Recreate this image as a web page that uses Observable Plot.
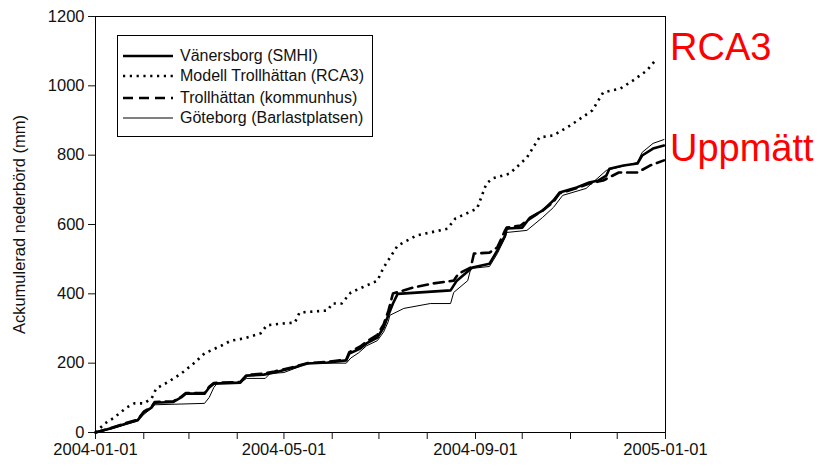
<!DOCTYPE html>
<html>
<head>
<meta charset="utf-8">
<script src="https://cdn.jsdelivr.net/npm/d3@7"></script>
<script src="https://cdn.jsdelivr.net/npm/@observablehq/plot@0.6"></script>
<style>
  html, body { margin: 0; padding: 0; background: white; }
  #wrap { position: relative; width: 819px; height: 468px; font-family: "Liberation Sans", Arial, sans-serif; }
  #legend { position: absolute; left: 117px; top: 35px; width: 256px; height: 102px; border: 1px solid #000; box-sizing: border-box; background: white; }
  .row { position: absolute; left: 5px; height: 20px; display: flex; align-items: center; font-size: 16px; color: #111; white-space: nowrap; }
  .row svg { margin-right: 5px; }
  .anno { position: absolute; color: #ff0000; font-size: 38px; line-height: 1; }
</style>
</head>
<body>
<div id="wrap"></div>
<script>
// ---- data ----
const seriesNames = ["Vänersborg (SMHI)", "Modell Trollhättan (RCA3)", "Trollhättan (kommunhus)", "Göteborg (Barlastplatsen)"];

const vanersborgDates = ["2004-01-01","2004-01-11","2004-01-21","2004-01-28","2004-02-01","2004-02-06","2004-02-08","2004-02-20","2004-02-25","2004-02-28","2004-03-11","2004-03-14","2004-03-17","2004-04-03","2004-04-07","2004-04-18","2004-04-25","2004-05-08","2004-05-16","2004-05-29","2004-06-10","2004-06-12","2004-06-19","2004-06-23","2004-06-30","2004-07-04","2004-07-07","2004-07-10","2004-07-13","2004-08-16","2004-08-20","2004-08-30","2004-09-10","2004-09-15","2004-09-20","2004-09-21","2004-10-01","2004-10-06","2004-10-14","2004-10-21","2004-10-25","2004-11-05","2004-11-13","2004-11-19","2004-11-24","2004-11-26","2004-12-05","2004-12-14","2004-12-17","2004-12-24","2004-12-31"];
const vanersborgValues = [0,12,26,35,58,72,86,88,101,112,112,130,141,144,164,167,173,188,199,202,208,228,242,257,274,303,338,372,400,410,438,476,487,525,568,588,591,620,640,669,692,707,721,727,741,761,770,776,799,819,828];

const rca3Dates = ["2004-01-01","2004-01-07","2004-01-13","2004-01-21","2004-01-26","2004-02-01","2004-02-06","2004-02-09","2004-02-16","2004-02-25","2004-03-04","2004-03-11","2004-03-22","2004-03-28","2004-04-05","2004-04-16","2004-04-20","2004-04-29","2004-05-08","2004-05-11","2004-05-29","2004-06-01","2004-06-07","2004-06-13","2004-06-30","2004-07-04","2004-07-13","2004-07-25","2004-08-14","2004-08-19","2004-09-02","2004-09-08","2004-09-12","2004-09-23","2004-10-04","2004-10-12","2004-10-21","2004-11-01","2004-11-15","2004-11-22","2004-12-03","2004-12-11","2004-12-20","2004-12-26"];
const rca3Values = [0,26,43,72,84,84,98,127,144,170,199,228,251,265,271,286,309,314,317,346,352,372,372,404,438,476,539,568,588,617,646,718,733,747,793,851,857,886,929,981,992,1015,1044,1076];

const trollhattanDates = ["2004-01-01","2004-01-11","2004-01-21","2004-01-28","2004-02-01","2004-02-06","2004-02-08","2004-02-20","2004-02-25","2004-02-28","2004-03-11","2004-03-14","2004-03-17","2004-04-03","2004-04-07","2004-04-18","2004-04-25","2004-05-08","2004-05-16","2004-05-29","2004-06-10","2004-06-12","2004-06-19","2004-06-23","2004-06-30","2004-07-04","2004-07-07","2004-07-10","2004-07-23","2004-08-05","2004-08-18","2004-08-21","2004-08-29","2004-08-31","2004-09-10","2004-09-15","2004-09-20","2004-09-21","2004-09-30","2004-10-04","2004-10-14","2004-10-21","2004-10-25","2004-11-05","2004-11-13","2004-11-22","2004-12-02","2004-12-14","2004-12-22","2004-12-31"];
const trollhattanValues = [0,13,28,37,60,74,88,90,103,114,114,132,143,146,166,170,176,190,200,204,210,232,248,262,282,312,350,401,418,430,438,458,476,516,519,534,583,591,597,611,640,665,690,705,718,727,750,750,770,785];

const goteborgDates = ["2004-01-01","2004-01-11","2004-01-21","2004-01-28","2004-02-01","2004-02-06","2004-02-08","2004-03-11","2004-03-14","2004-03-17","2004-03-19","2004-04-03","2004-04-07","2004-04-19","2004-04-22","2004-05-01","2004-05-11","2004-05-16","2004-06-10","2004-06-13","2004-06-18","2004-06-23","2004-06-30","2004-07-04","2004-07-07","2004-07-08","2004-07-17","2004-08-03","2004-08-16","2004-08-18","2004-08-27","2004-08-29","2004-09-10","2004-09-15","2004-09-20","2004-09-21","2004-10-04","2004-10-14","2004-10-21","2004-10-27","2004-11-11","2004-11-24","2004-12-14","2004-12-17","2004-12-24","2004-12-31"];
const goteborgValues = [0,10,24,33,52,70,80,84,101,130,141,144,156,156,170,173,190,200,200,215,230,250,265,290,320,338,358,372,372,404,438,473,479,516,562,577,583,620,649,684,704,756,779,808,834,845];

const yTicks = [0, 200, 400, 600, 800, 1000, 1200];
const xLabelDates = ["2004-01-01", "2004-05-01", "2004-09-01", "2005-01-01"];
const xDomain = ["2004-01-01", "2005-01-01"];

// ---- build ----
const parse = d3.utcParse("%Y-%m-%d");
const fmt = d3.utcFormat("%Y-%m-%d");
const toRows = (dates, values) => dates.map((d, i) => ({date: parse(d), value: values[i]}));

const vRows = toRows(vanersborgDates, vanersborgValues);
const rRows = toRows(rca3Dates, rca3Values);
const tRows = toRows(trollhattanDates, trollhattanValues);
const gRows = toRows(goteborgDates, goteborgValues);

const monthTicks = d3.utcMonth.range(parse(xDomain[0]), d3.utcDay.offset(parse(xDomain[1]), 1));
const labelSet = new Set(xLabelDates);

const styles = [
  {strokeWidth: 2.6, dash: null},
  {strokeWidth: 2.6, dash: "2.2,4.6"},
  {strokeWidth: 2.6, dash: "10,6"},
  {strokeWidth: 1, dash: null}
];

const chart = Plot.plot({
  width: 819,
  height: 468,
  marginLeft: 95,
  marginRight: 154,
  marginTop: 16,
  marginBottom: 36,
  style: {fontFamily: "'Liberation Sans', Arial, sans-serif", fontSize: "16.5px", color: "#111", background: "white"},
  x: {type: "utc", domain: xDomain.map(parse)},
  y: {domain: [0, 1200]},
  marks: [
    Plot.frame({stroke: "#000", strokeWidth: 1}),
    Plot.axisX({ticks: monthTicks, tickSize: 7, tickPadding: 4, label: null,
      tickFormat: d => labelSet.has(fmt(d)) ? fmt(d) : ""}),
    Plot.axisY({ticks: yTicks, tickSize: 7, tickPadding: 4, tickFormat: d => String(d),
      label: "Ackumulerad nederbörd (mm)", labelAnchor: "center", labelArrow: "none", labelOffset: 82}),
    Plot.line(gRows, {x: "date", y: "value", stroke: "#000", strokeWidth: styles[3].strokeWidth}),
    Plot.line(rRows, {x: "date", y: "value", stroke: "#000", strokeWidth: styles[1].strokeWidth, strokeDasharray: styles[1].dash, strokeLinecap: "butt"}),
    Plot.line(tRows, {x: "date", y: "value", stroke: "#000", strokeWidth: styles[2].strokeWidth, strokeDasharray: styles[2].dash}),
    Plot.line(vRows, {x: "date", y: "value", stroke: "#000", strokeWidth: styles[0].strokeWidth})
  ]
});

const wrap = document.getElementById("wrap");
wrap.appendChild(chart);

// legend
const legend = document.createElement("div");
legend.id = "legend";
const rowTops = [10, 30, 52, 72];
seriesNames.forEach((name, i) => {
  const row = document.createElement("div");
  row.className = "row";
  row.style.top = rowTops[i] + "px";
  const s = styles[i];
  row.innerHTML = `<svg width="52" height="10"><line x1="0" y1="5" x2="50" y2="5" stroke="#000" stroke-width="${s.strokeWidth}" ${s.dash ? `stroke-dasharray="${s.dash}"` : ""}/></svg><span>${name}</span>`;
  legend.appendChild(row);
});
wrap.appendChild(legend);

// annotations
const a1 = document.createElement("div");
a1.className = "anno"; a1.textContent = "RCA3";
a1.style.left = "670px"; a1.style.top = "28px";
wrap.appendChild(a1);
const a2 = document.createElement("div");
a2.className = "anno"; a2.textContent = "Uppmätt";
a2.style.left = "670px"; a2.style.top = "129px";
wrap.appendChild(a2);
</script>
</body>
</html>
